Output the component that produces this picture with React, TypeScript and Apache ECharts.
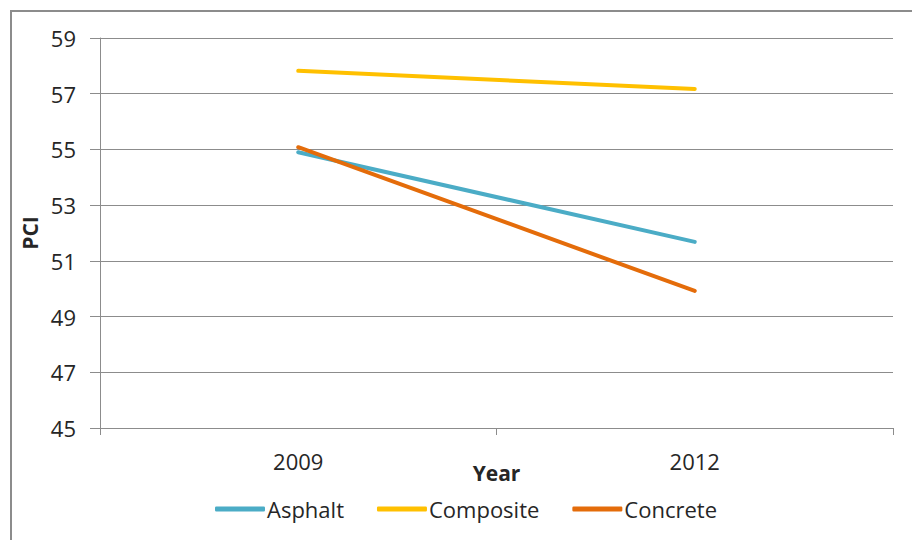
import React, { useEffect, useRef } from "react";
import * as echarts from "echarts";

const categories = ["2009", "2012"];
const asphalt = [54.9, 51.68];
const composite = [57.82, 57.17];
const concrete = [55.08, 49.92];
const seriesNames = ["Asphalt", "Composite", "Concrete"];
const colors = ["#4BACC6", "#FFC000", "#E46C0A"];

export default function App() {
  const ref = useRef<HTMLDivElement>(null);
  useEffect(() => {
    document.body.style.margin = "0";
    const chart = echarts.init(ref.current!, null, { renderer: "svg" });
    const font = "Open Sans";
    const txt = "#262626";
    const data = [asphalt, composite, concrete];
    chart.setOption({
      animation: false,
      backgroundColor: "#ffffff",
      textStyle: { fontFamily: font, color: txt },
      graphic: [
        {
          type: "rect",
          shape: { x: 11, y: 11, width: 940, height: 600 },
          style: { fill: "none", stroke: "#8c8c8c", lineWidth: 2 },
          silent: true,
        },
      ],
      grid: { left: 100, right: 19, top: 38, bottom: 112 },
      legend: {
        left: 210,
        top: 493,
        itemWidth: 50,
        itemHeight: 5,
        itemGap: 33,
        icon: "roundRect",
        data: seriesNames,
        textStyle: { fontFamily: font, fontSize: 22, color: txt, padding: [0, 0, 0, -3] },
      },
      xAxis: {
        type: "category",
        data: categories,
        boundaryGap: true,
        name: "Year",
        nameLocation: "middle",
        nameGap: 34,
        nameMoveOverlap: false,
        nameTextStyle: { fontFamily: font, fontSize: 21, fontWeight: "bold", color: txt },
        axisLine: { lineStyle: { color: "#8c8c8c", width: 1 } },
        axisTick: { show: true, length: 7, interval: 0, lineStyle: { color: "#8c8c8c" } },
        axisLabel: { fontFamily: font, fontSize: 22, color: txt, margin: 22 },
        splitLine: { show: false },
      },
      yAxis: {
        type: "value",
        min: 45,
        max: 59,
        interval: 2,
        name: "PCI",
        nameLocation: "middle",
        nameRotate: 90,
        nameGap: 60,
        nameMoveOverlap: false,
        nameTextStyle: { fontFamily: font, fontSize: 21, fontWeight: "bold", color: txt },
        axisLine: { show: true, lineStyle: { color: "#8c8c8c", width: 1 } },
        axisTick: { show: true, length: 10, inside: false, lineStyle: { color: "#8c8c8c" } },
        axisLabel: { fontFamily: font, fontSize: 22, color: txt, margin: 24 },
        splitLine: { lineStyle: { color: "#8c8c8c", width: 1 } },
      },
      series: seriesNames.map((n, i) => ({
        name: n,
        type: "line",
        data: data[i],
        symbol: "none",
        lineStyle: { color: colors[i], width: 4, cap: "round" },
        itemStyle: { color: colors[i] },
      })),
    });
    return () => chart.dispose();
  }, []);
  return <div ref={ref} style={{ width: 912, height: 540, position: "absolute", left: 0, top: 0 }} />;
}
